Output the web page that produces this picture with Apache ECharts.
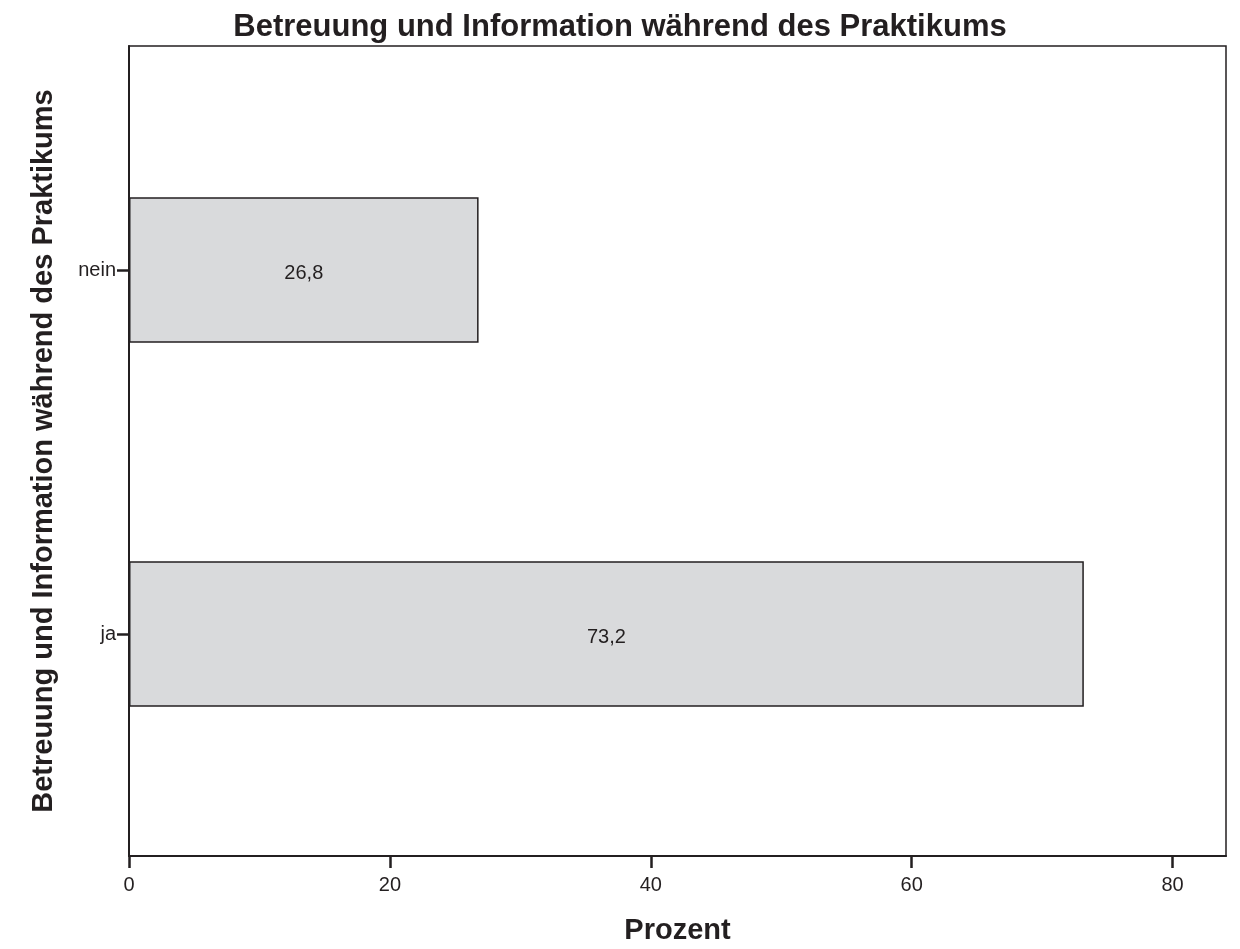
<!DOCTYPE html>
<html>
<head>
<meta charset="utf-8">
<script src="https://cdn.jsdelivr.net/npm/echarts@6/dist/echarts.min.js"></script>
<style>
  html, body { margin: 0; padding: 0; background: #ffffff; }
  #chart { width: 1240px; height: 949px; }
</style>
</head>
<body>
<div id="chart"></div>
<script>
// Survey answers: share of respondents (percent)
const categories = ['ja', 'nein'];
const percentValues = [73.2, 26.8];
const xTicks = [0, 20, 40, 60, 80];

const titleText = 'Betreuung und Information während des Praktikums';
const yAxisTitle = 'Betreuung und Information während des Praktikums';
const xAxisTitle = 'Prozent';

const FONT = '"Liberation Sans", Arial, sans-serif';
const INK = '#231f20';
const X_MAX = 84.1;

const chart = echarts.init(document.getElementById('chart'), null, { renderer: 'canvas' });

chart.setOption({
  backgroundColor: '#ffffff',
  animation: false,
  title: {
    text: titleText,
    left: 'center',
    top: 7,
    textStyle: { fontFamily: FONT, fontSize: 31, fontWeight: 'bold', color: INK }
  },
  grid: [
    // outer frame carrying the percent axis
    { left: 129, right: 14, top: 46, bottom: 93, outerBoundsMode: 'none', containLabel: false,
      show: true, borderColor: INK, borderWidth: 1.5, backgroundColor: 'transparent' },
    // inner band holding the bars
    { left: 129, right: 14, top: 88, bottom: 133, outerBoundsMode: 'none', containLabel: false }
  ],
  xAxis: [
    {
      gridIndex: 0,
      type: 'value',
      min: 0,
      max: X_MAX,
      name: xAxisTitle,
      nameLocation: 'middle',
      nameGap: 60,
      nameTextStyle: { fontFamily: FONT, fontSize: 29, fontWeight: 'bold', color: INK },
      axisLine: { show: true, lineStyle: { color: INK, width: 2 } },
      axisTick: { show: true, length: 12, lineStyle: { color: INK, width: 2.5 },
        customValues: xTicks },
      axisLabel: { fontFamily: FONT, fontSize: 20, color: INK, margin: 19,
        customValues: xTicks },
      splitLine: { show: false }
    },
    {
      gridIndex: 1,
      type: 'value',
      min: 0,
      max: X_MAX,
      show: false,
      splitLine: { show: false }
    }
  ],
  yAxis: [
    {
      gridIndex: 0,
      type: 'value',
      min: 0,
      max: 1,
      name: yAxisTitle,
      nameLocation: 'middle',
      nameRotate: 90,
      nameGap: 71,
      nameTextStyle: { fontFamily: FONT, fontSize: 29, fontWeight: 'bold', color: INK },
      axisLine: { show: true, lineStyle: { color: INK, width: 2 } },
      axisTick: { show: false },
      axisLabel: { show: false },
      splitLine: { show: false }
    },
    {
      gridIndex: 1,
      type: 'category',
      data: categories,
      axisLine: { show: false },
      axisTick: { show: true, alignWithLabel: true, length: 12, lineStyle: { color: INK, width: 2.5 } },
      axisLabel: { fontFamily: FONT, fontSize: 20, color: INK, margin: 13 },
      splitLine: { show: false }
    }
  ],
  series: [
    {
      type: 'bar',
      xAxisIndex: 1,
      yAxisIndex: 1,
      data: percentValues,
      barCategoryGap: '60%',
      itemStyle: { color: '#d9dadc', borderColor: INK, borderWidth: 1.5 },
      label: {
        show: true,
        position: 'inside',
        offset: [0, 3],
        fontFamily: FONT,
        fontSize: 20,
        color: INK,
        formatter: p => String(p.value).replace('.', ',')
      }
    }
  ]
});
</script>
</body>
</html>
